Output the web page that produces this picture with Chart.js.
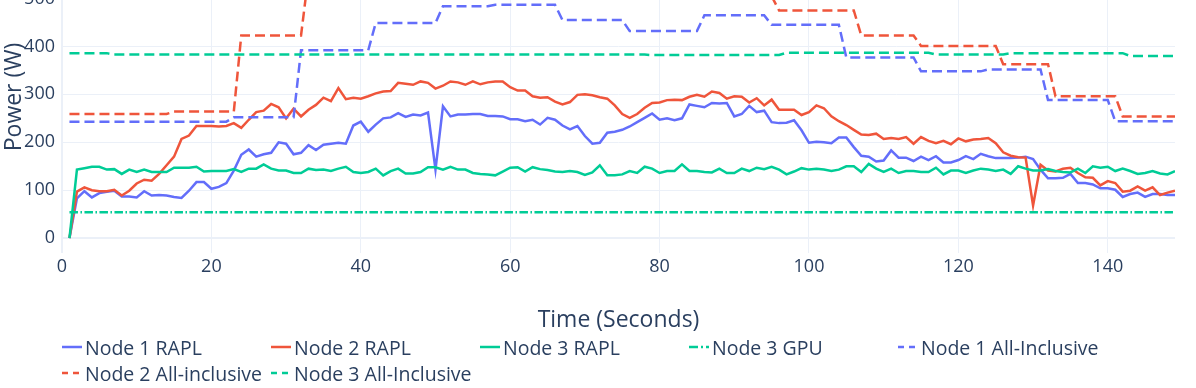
<!DOCTYPE html>
<html>
<head>
<meta charset="utf-8">
<script src="https://cdn.jsdelivr.net/npm/chart.js@4.4.1/dist/chart.umd.min.js"></script>
<style>
  html, body { margin: 0; padding: 0; background: #fff; }
  body { width: 1196px; height: 388px; overflow: hidden; position: relative; font-family: "Open Sans", sans-serif; }
  #wrap { position: absolute; left: 0; top: -62px; width: 1196px; height: 396px; }
  #legend { position: absolute; left: 0; top: 0; width: 1196px; height: 388px; }
  .item { position: absolute; height: 24px; display: flex; align-items: center; font-size: 19.5px; color: #2a3f5f; white-space: nowrap; }
  .item svg { margin-right: 3px; }
</style>
</head>
<body>
<div id="wrap"><canvas id="powerChart"></canvas></div>
<div id="legend"></div>
<script>
// time axis, one sample per second
const seconds = [];
for (let s = 1; s <= 149; s++) seconds.push(s);

const node1Rapl = [
    0, 83, 98, 85, 94, 97, 99, 87, 87, 85,
    98, 89, 90, 89, 86, 84, 99, 117, 117, 103,
    107, 115, 141, 174, 185, 170, 175, 178, 200, 197,
    175, 178, 194, 184, 195, 197, 199, 197, 235, 243,
    222, 237, 250, 252, 261, 253, 258, 256, 262, 143,
    275, 254, 258, 258, 259, 259, 255, 255, 254, 248,
    248, 244, 247, 237, 251, 247, 235, 227, 234, 213,
    197, 199, 220, 222, 226, 233, 242, 251, 260, 247,
    250, 246, 250, 279, 276, 273, 282, 281, 282, 254,
    259, 276, 263, 266, 242, 240, 241, 246, 225, 199,
    201, 200, 198, 210, 210, 190, 172, 170, 160, 162,
    183, 168, 168, 161, 170, 163, 171, 158, 158, 163,
    171, 165, 176, 171, 167, 167, 167, 168, 170, 165,
    143, 125, 125, 126, 134, 115, 115, 112, 104, 104,
    101, 86, 92, 95, 86, 92, 92, 90, 90
];

const node2Rapl = [
    0, 97, 106, 100, 98, 98, 101, 89, 99, 114,
    122, 120, 134, 152, 170, 207, 214, 234, 234, 234,
    233, 234, 240, 230, 247, 263, 266, 280, 273, 250,
    270, 254, 268, 278, 293, 286, 313, 290, 293, 291,
    296, 302, 306, 307, 324, 322, 320, 327, 324, 312,
    318, 327, 325, 320, 327, 321, 325, 327, 327, 315,
    308, 308, 296, 293, 294, 285, 279, 284, 299, 300,
    298, 294, 291, 277, 259, 251, 259, 272, 282, 283,
    288, 289, 288, 295, 299, 295, 306, 303, 291, 296,
    295, 283, 292, 277, 289, 268, 268, 268, 257, 263,
    277, 271, 254, 244, 236, 226, 216, 215, 218, 207,
    209, 207, 211, 197, 211, 203, 198, 203, 196, 208,
    202, 206, 207, 209, 198, 179, 172, 169, 168, 68,
    153, 141, 139, 145, 147, 136, 127, 126, 110, 119,
    115, 97, 99, 108, 99, 106, 90, 95, 99
];

const node3Rapl = [
    0, 143, 146, 149, 149, 143, 144, 134, 143, 138,
    143, 138, 138, 138, 147, 147, 147, 149, 139, 140,
    140, 140, 144, 138, 145, 145, 154, 145, 141, 141,
    136, 136, 145, 142, 143, 140, 145, 149, 138, 136,
    138, 145, 131, 140, 145, 135, 135, 138, 148, 148,
    143, 149, 143, 143, 136, 134, 133, 131, 139, 147,
    148, 139, 148, 144, 142, 139, 138, 140, 138, 132,
    137, 152, 131, 131, 133, 140, 136, 149, 145, 136,
    140, 140, 154, 140, 140, 138, 137, 145, 136, 136,
    145, 140, 147, 144, 149, 143, 133, 139, 146, 143,
    145, 143, 140, 143, 150, 150, 138, 155, 145, 138,
    145, 136, 140, 140, 138, 138, 147, 133, 141, 141,
    136, 141, 145, 143, 140, 143, 134, 150, 145, 141,
    141, 144, 140, 138, 137, 145, 136, 150, 147, 149,
    140, 145, 140, 134, 136, 140, 135, 133, 140
];

const node3GpuTimes = [1, 149];
const node3GpuValues = [54, 54];

// all-inclusive readings only change in steps, listed at the corners
const node1AllTimes = [1, 22, 23, 31, 32, 41, 42, 50, 51, 57, 58, 66, 67, 75, 76, 85, 86, 94, 95, 104, 105, 114, 115, 123, 124, 131, 132, 140, 141, 149];
const node1AllValues = [243, 243, 252, 252, 392, 392, 449, 449, 484, 484, 487, 487, 455, 455, 432, 432, 465, 465, 445, 445, 377, 377, 348, 348, 352, 352, 288, 288, 244, 244];

const node2AllTimes = [1, 14, 15, 23, 24, 32, 33, 95, 96, 106, 107, 114, 115, 125, 126, 132, 133, 141, 142, 149];
const node2AllValues = [259, 259, 264, 264, 423, 423, 549, 505, 475, 475, 423, 423, 401, 401, 363, 363, 296, 296, 254, 254];

const node3AllTimes = [1, 6, 7, 78, 79, 96, 97, 116, 117, 126, 127, 142, 143, 149];
const node3AllValues = [386, 386, 383, 383, 382, 382, 387, 387, 383, 383, 386, 386, 380, 380];

const xTicks = [0, 20, 40, 60, 80, 100, 120, 140];
const yTicks = [0, 100, 200, 300, 400, 500];

const textColor = '#2a3f5f';
const gridColor = '#EBF0F8';
const fontFamily = '"Open Sans", sans-serif';

const toPoints = (xs, ys) => xs.map((x, i) => ({ x: x, y: ys[i] }));

const series = [
    { label: 'Node 1 RAPL', data: toPoints(seconds, node1Rapl), color: '#636efa', dash: [] },
    { label: 'Node 2 RAPL', data: toPoints(seconds, node2Rapl), color: '#EF553B', dash: [] },
    { label: 'Node 3 RAPL', data: toPoints(seconds, node3Rapl), color: '#00cc96', dash: [] },
    { label: 'Node 3 GPU', data: toPoints(node3GpuTimes, node3GpuValues), color: '#00cc96', dash: [8.5, 2.5, 1.5, 2.5] },
    { label: 'Node 1 All-Inclusive', data: toPoints(node1AllTimes, node1AllValues), color: '#636efa', dash: [10, 5] },
    { label: 'Node 2 All-inclusive', data: toPoints(node2AllTimes, node2AllValues), color: '#EF553B', dash: [10, 5] },
    { label: 'Node 3 All-Inclusive', data: toPoints(node3AllTimes, node3AllValues), color: '#00cc96', dash: [10, 5] }
];

// drop the extra room chart.js keeps for edge labels
const noEdgePadding = (scale) => {
    scale.paddingTop = 0;
    scale.paddingBottom = 0;
    scale.paddingLeft = 0;
    scale.paddingRight = 0;
};

const ctx = document.getElementById('powerChart').getContext('2d');

const chart = new Chart(ctx, {
    type: 'line',
    data: {
        datasets: series.map((s, i) => ({
            label: s.label,
            data: s.data,
            borderColor: s.color,
            backgroundColor: s.color,
            borderWidth: 2.5,
            borderDash: s.dash,
            pointRadius: 0,
            tension: 0,
            fill: false,
            order: 10 - i
        }))
    },
    options: {
        responsive: true,
        maintainAspectRatio: false,
        animation: false,
        layout: { padding: { top: 3, right: 21, left: 0, bottom: 0 } },
        plugins: {
            legend: { display: false },
            tooltip: { enabled: false }
        },
        scales: {
            x: {
                type: 'linear',
                min: 0,
                max: 149,
                afterBuildTicks: (scale) => {
                    scale.ticks = xTicks.map(v => ({ value: v }));
                },
                afterFit: (scale) => {
                    scale.height = 81;
                    noEdgePadding(scale);
                },
                ticks: { padding: 3, color: textColor, font: { family: fontFamily, size: 18 } },
                grid: {
                    color: gridColor,
                    lineWidth: (c) => (c.tick && c.tick.value === 0 ? 2 : 1),
                    drawTicks: false
                },
                border: { display: false },
                title: {
                    display: true,
                    text: 'Time (Seconds)',
                    color: textColor,
                    font: { family: fontFamily, size: 23 },
                    padding: { top: 0, bottom: 0 }
                }
            },
            y: {
                min: -31,
                max: 620,
                afterBuildTicks: (scale) => {
                    scale.ticks = yTicks.map(v => ({ value: v }));
                },
                afterFit: (scale) => {
                    scale.width = 62;
                    noEdgePadding(scale);
                },
                ticks: { padding: 7, color: textColor, font: { family: fontFamily, size: 18 } },
                grid: {
                    color: gridColor,
                    lineWidth: (c) => (c.tick && c.tick.value === 0 ? 2 : 1),
                    drawTicks: false
                },
                border: { display: false },
                title: {
                    display: true,
                    text: 'Power (W)',
                    color: textColor,
                    font: { family: fontFamily, size: 23 },
                    padding: { top: 1, bottom: 0 }
                }
            }
        }
    }
});

// legend laid out in fixed columns like the original
const legend = document.getElementById('legend');
chart.data.datasets.forEach((ds, i) => {
    const col = i % 5;
    const row = Math.floor(i / 5);
    const item = document.createElement('div');
    item.className = 'item';
    item.style.left = (62 + col * 209) + 'px';
    item.style.top = (335 + row * 26) + 'px';
    const dash = ds.borderDash.length ? ' stroke-dasharray="' + (ds.borderDash.length > 2 ? '9,3,2,3' : '6,5') + '"' : '';
    item.innerHTML = '<svg width="20" height="10"><line x1="0" y1="5" x2="20" y2="5" stroke="' + ds.borderColor + '" stroke-width="2.5"' + dash + '/></svg>';
    const span = document.createElement('span');
    span.textContent = ds.label;
    item.appendChild(span);
    legend.appendChild(item);
});
</script>
</body>
</html>
